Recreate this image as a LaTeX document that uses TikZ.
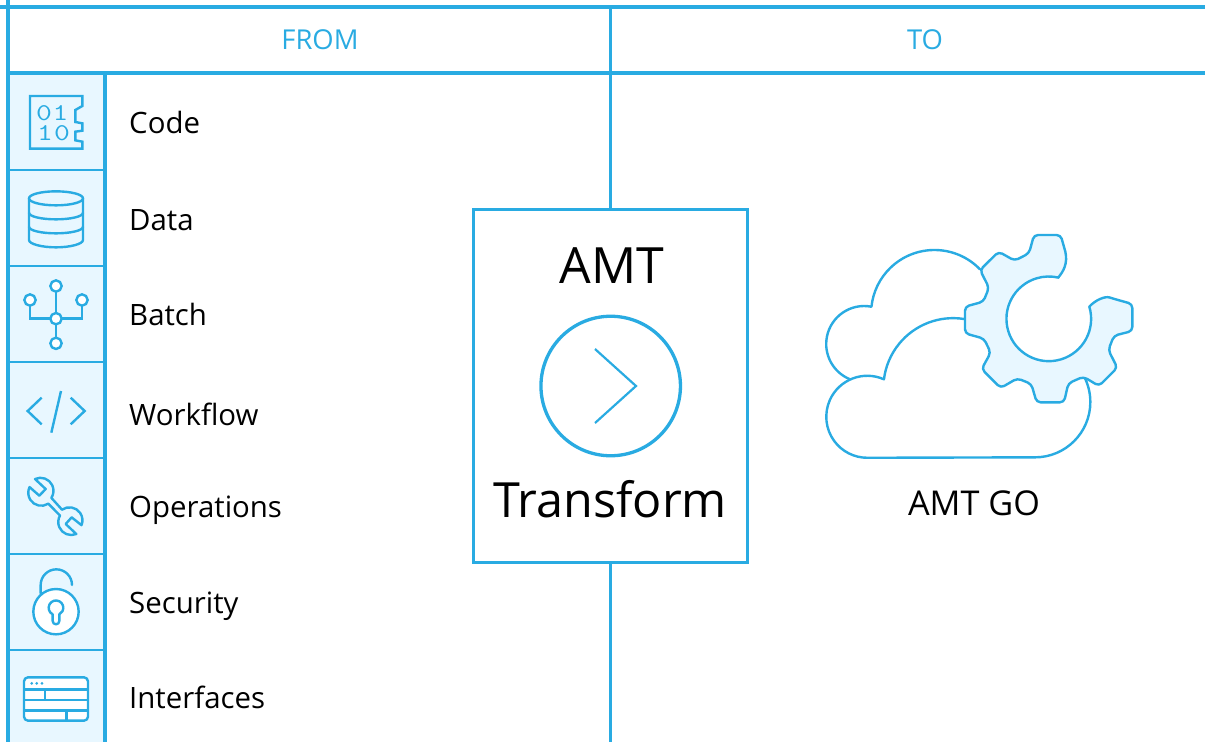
\documentclass[tikz,border=0pt]{standalone}
\usepackage{fontspec}
\setmainfont{Open Sans}
\definecolor{amtblue}{HTML}{29ABE2}
\definecolor{amtpale}{HTML}{E8F7FF}
\tikzset{
  zf/.style 2 args={shift={(#1,#2)},x=0.33333pt,y=-0.33333pt},
  grid/.style={draw=amtblue,line width=3.7pt},
  thin grid/.style={draw=amtblue,line width=2.2pt},
  icon/.style={draw=amtblue,line width=2.4pt,line join=round,line cap=round},
  dig/.style={text=amtblue,font=\ttfamily\addfontfeature{FakeBold=3}\fontsize{24}{24}\selectfont,inner sep=0pt,anchor=center,xscale=1.28,transform shape},
  rowlabel/.style={anchor=base west,inner sep=0pt,text=black,font=\fontsize{29.4}{32}\selectfont},
  head/.style={anchor=base,inner sep=0pt,text=amtblue,font=\fontsize{27.4}{30}\selectfont},
}
\begin{document}
\begin{tikzpicture}[x=1pt,y=-1pt]
\useasboundingbox (0,0) rectangle (1205,742);
\fill[white] (0,0) rectangle (1205,742);
\fill[amtpale] (8,73) rectangle (105,742);
% grid
\draw[grid] (0,7) -- (1205,7);
\draw[grid] (8,0) -- (8,742);
\draw[grid] (8,73) -- (1205,73);
\draw[grid,line width=3.3pt] (610.5,7) -- (610.5,742);
\draw[grid,line width=3.3pt] (105,73) -- (105,742);
\foreach \yy in {170,266,362,458,554,650} \draw[thin grid] (8,\yy) -- (105,\yy);
% header
\node[head] (from) at (320,49.5) {FROM};
\node[head] (to) at (925,49.5) {TO};
% labels
\node[rowlabel] (lcode) at (129,133) {Code};
\node[rowlabel] (ldata) at (129,230) {Data};
\node[rowlabel] (lbatch) at (129,325) {Batch};
\node[rowlabel] (lwork) at (129,425) {Workflow};
\node[rowlabel] (lops) at (129,517) {Operations};
\node[rowlabel] (lsec) at (129,613) {Security};
\node[rowlabel] (lint) at (129,708) {Interfaces};
% central box
\node[draw=amtblue,fill=white,line width=3.3pt,minimum width=274pt,minimum height=353pt,inner sep=0pt] (box) at (610.5,386) {};
\node[anchor=base,inner sep=0pt,font=\fontsize{50}{54}\selectfont] (amt) at (612,283) {AMT};
\node[anchor=base,inner sep=0pt,font=\fontsize{48.5}{54}\selectfont] (transform) at (610,517) {Transform};
\node[circle,draw=amtblue,line width=3.3pt,minimum size=139.5pt,inner sep=0pt] (play) at (610.7,386) {};
\draw[amtblue,line width=2.2pt] (595,349) -- (636,386) -- (595,423);
\node[anchor=base,inner sep=0pt,font=\fontsize{34.2}{36}\selectfont] (go) at (974,515) {AMT GO};
% cloud + gear
\begin{scope}[zf={810}{220},icon,line width=2.4pt]
  \draw (510,148) arc[start angle=-44,end angle=-174,radius=190]
        arc[start angle=-79,end angle=-246.5,radius=114];
  \draw (462,297) arc[start angle=-81,end angle=-173,radius=209]
        arc[start angle=-66,end angle=-270,radius=123]
        -- (675,712)
        arc[start angle=90,end angle=-26,radius=166];
  \draw[fill=amtpale]
    (745,172) .. controls (760,155) and (774,130) .. (766,95)
    [rounded corners=4pt] -- (752,45) -- (672,45) -- (657,100) -- (614,122) -- (566,95)
    -- (510,150) -- (537,203) -- (520,245) -- (465,260) -- (465,340) -- (522,356) -- (542,398) -- (515,447)
    -- (572,504) -- (622,475) -- (664,492) -- (680,547) -- (762,547) -- (775,490) -- (820,470) -- (867,498)
    -- (922,443) -- (895,390) -- (912,347) -- (967,333) -- (967,252) -- (910,236)
    [sharp corners] .. controls (885,228) and (856,240) .. (838,260)
    arc[start angle=-16.7,end angle=283.5,radius=127];
\end{scope}
% chip
\begin{scope}[zf={0}{70},icon,line cap=butt]
  \draw[line join=miter] (90,78) -- (247,78) -- (247,108) -- (226,120) -- (226,156) -- (247,160) -- (247,182) -- (226,185) -- (226,211) -- (247,215) -- (247,236) -- (90,236) -- cycle;
\end{scope}
\node[dig] (d1) at (44,113) {0};
\node[dig] (d2) at (60.5,113) {1};
\node[dig] (d3) at (45,133.5) {1};
\node[dig] (d4) at (62,133.5) {0};
% database
\begin{scope}[zf={0}{70},icon]
  \draw (168,385) ellipse[x radius=81,y radius=21];
  \draw (87,385) -- (87,510) .. controls (87,522) and (125,532) .. (168,532) .. controls (211,532) and (249,522) .. (249,510) -- (249,385);
  \draw (87,428) .. controls (87,440) and (125,448) .. (168,448) .. controls (211,448) and (249,440) .. (249,428);
  \draw (87,470) .. controls (87,482) and (125,490) .. (168,490) .. controls (211,490) and (249,482) .. (249,470);
\end{scope}
% batch
\begin{scope}[zf={0}{265},icon]
  \draw[line join=miter] (90,105) -- (90,161) -- (246,161) -- (246,105);
  \draw (168,63) -- (168,235);
  \foreach \px/\py in {90/105,168/63,246/105,168/161,168/235}
    \draw[fill=white] (\px,\py) circle[radius=17];
\end{scope}
% code
\begin{scope}[zf={0}{265},icon,line cap=butt,line join=miter]
  \draw (125,398) -- (83,438) -- (125,478);
  \draw (212,398) -- (254,438) -- (212,478);
  \draw (183,378) -- (154,503);
\end{scope}
% wrench
\begin{scope}[zf={0}{455},icon]
  \draw (105,72) arc[start angle=-115,end angle=33,radius=39] -- (186,164)
        arc[start angle=-125,end angle=22,radius=39]
        -- (215,187) -- (197,207) -- (229,237)
        arc[start angle=67,end angle=210,radius=39]
        -- (145,146)
        arc[start angle=57,end angle=206,radius=39]
        -- (118,122) -- (137,102) -- cycle;
\end{scope}
% lock
\begin{scope}[zf={0}{455},icon]
  \draw (122,415) -- (122,390) arc[start angle=180,end angle=360,radius=47];
  \draw[fill=white] (168,470) circle[radius=68];
  \draw (158,478) arc[start angle=117,end angle=423,radius=22] -- (178,498)
        arc[start angle=0,end angle=180,radius=10] -- cycle;
\end{scope}
% interface
\begin{scope}[zf={0}{455},icon,line cap=butt]
  \draw[fill=white,rounded corners=4pt] (72,667) rectangle (264,797);
  \foreach \yy in {703,735,767} \draw (72,\yy) -- (264,\yy);
  \draw (135,703) -- (135,735);
  \draw (200,767) -- (200,797);
  \foreach \xx in {95,110,126} \fill[amtblue] (\xx,685) circle[radius=4.5];
\end{scope}
\end{tikzpicture}
\end{document}
